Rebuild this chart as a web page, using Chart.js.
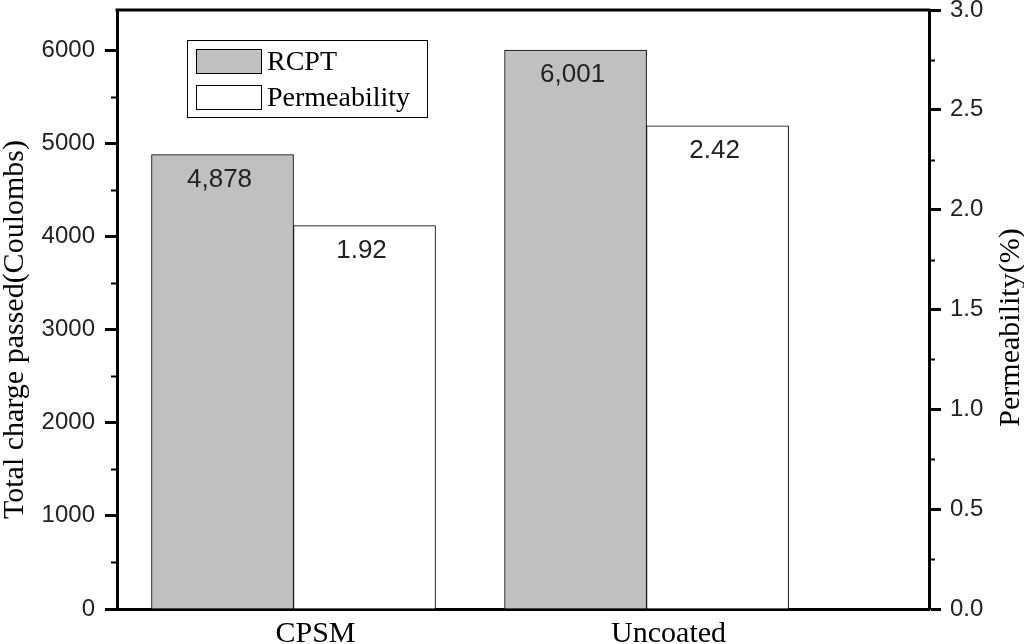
<!DOCTYPE html>
<html>
<head>
<meta charset="utf-8">
<script src="https://cdn.jsdelivr.net/npm/chart.js@4.4.0/dist/chart.umd.min.js"></script>
<style>
  html, body { margin: 0; padding: 0; background: #fff; }
</style>
</head>
<body>
<canvas id="myChart" width="1024" height="644"></canvas>
<script>
// data
var categories = ['CPSM', 'Uncoated'];
var rcpt = [4878, 6001];            // Total charge passed (Coulombs)
var permeability = [1.92, 2.42];    // Permeability (%)
var leftTicks = [0, 1000, 2000, 3000, 4000, 5000, 6000];
var rightTicks = [0.0, 0.5, 1.0, 1.5, 2.0, 2.5, 3.0];

var serif = "'Liberation Serif', 'Times New Roman', serif";
var sans = "'Liberation Sans', Arial, sans-serif";

// minor ticks, top frame line, rotated titles, legend, value labels
var extras = {
  id: 'extras',
  afterDatasetsDraw: function (chart) {
    var ctx = chart.ctx;
    ctx.save();
    ctx.font = '26px ' + sans;
    ctx.fillStyle = '#222';
    ctx.textAlign = 'center';
    ctx.textBaseline = 'middle';
    chart.data.datasets.forEach(function (ds, di) {
      chart.getDatasetMeta(di).data.forEach(function (bar, i) {
        var v = di === 0 ? rcpt[i].toLocaleString('en-US') : permeability[i].toFixed(2);
        ctx.fillText(v, bar.x - 3, bar.y + 25);
      });
    });
    ctx.restore();
  },
  afterDraw: function (chart) {
    var ctx = chart.ctx;
    var a = chart.chartArea;
    ctx.save();
    ctx.strokeStyle = '#000';

    // top frame
    ctx.lineWidth = 3;
    ctx.beginPath();
    ctx.moveTo(a.left - 1.5, a.top);
    ctx.lineTo(a.right + 1.5, a.top);
    ctx.stroke();

    // minor ticks halfway between major ones
    ctx.lineWidth = 2;
    function minors(scale, ticks, x0, x1) {
      for (var i = 0; i < ticks.length; i++) {
        var next = i + 1 < ticks.length ? ticks[i + 1] : ticks[i] + (ticks[1] - ticks[0]);
        var mid = (ticks[i] + next) / 2;
        if (mid > scale.max) continue;
        var y = Math.round(scale.getPixelForValue(mid)) + 0.5;
        ctx.beginPath();
        ctx.moveTo(x0, y);
        ctx.lineTo(x1, y);
        ctx.stroke();
      }
    }
    minors(chart.scales.y, leftTicks, a.left - 6, a.left);
    minors(chart.scales.y1, rightTicks, a.right, a.right + 6);

    // axis titles (both read bottom to top)
    ctx.fillStyle = '#000';
    ctx.font = '30px ' + serif;
    ctx.textAlign = 'center';
    ctx.textBaseline = 'alphabetic';
    var cy = (a.top + a.bottom) / 2 + 20;
    ctx.save();
    ctx.translate(23, cy);
    ctx.rotate(-Math.PI / 2);
    ctx.fillText('Total charge passed(Coulombs)', 0, 0);
    ctx.restore();
    ctx.save();
    ctx.translate(1019, cy - 2);
    ctx.rotate(-Math.PI / 2);
    ctx.fillText('Permeability(%)', 0, 0);
    ctx.restore();

    // legend box
    var lx = a.left + 70, ly = a.top + 30;
    ctx.lineWidth = 1;
    ctx.strokeRect(lx + 0.5, ly + 0.5, 240, 77);
    ctx.font = '28px ' + serif;
    ctx.textAlign = 'left';
    chart.data.datasets.forEach(function (ds, i) {
      var sy = ly + 9 + i * 36;
      ctx.fillStyle = ds.backgroundColor;
      ctx.fillRect(lx + 9, sy, 65, 24);
      ctx.strokeRect(lx + 9.5, sy + 0.5, 65, 24);
      ctx.fillStyle = '#000';
      ctx.fillText(ds.label, lx + 80, sy + 21);
    });
    ctx.restore();
  }
};

var ctx = document.getElementById('myChart').getContext('2d');
var chart = new Chart(ctx, {
  type: 'bar',
  data: {
    datasets: [{
      label: 'RCPT',
      data: rcpt.map(function (v, i) { return { x: i + 1, y: v }; }),
      yAxisID: 'y',
      backgroundColor: '#c0c0c0',
      borderColor: '#000',
      borderWidth: 1,
      barThickness: 142
    }, {
      label: 'Permeability',
      data: permeability.map(function (v, i) { return { x: i + 1, y: v }; }),
      yAxisID: 'y1',
      backgroundColor: '#ffffff',
      borderColor: '#000',
      borderWidth: 1,
      barThickness: 142
    }]
  },
  options: {
    responsive: false,
    animation: false,
    layout: { padding: { top: 10, left: 0, right: 0, bottom: 0 } },
    plugins: { legend: { display: false }, tooltip: { enabled: false } },
    scales: {
      x: {
        type: 'linear',
        offset: false,
        min: 0.5,
        max: 2.8,
        afterBuildTicks: function (s) { s.ticks = categories.map(function (c, i) { return { value: i + 1 }; }); },
        afterFit: function (s) { s.height = 35; s.paddingLeft = 0; s.paddingRight = 0; },
        grid: { display: false, drawTicks: false },
        border: { display: true, width: 3, color: '#000' },
        ticks: {
          callback: function (v) { return categories[v - 1]; },
          labelOffset: 22,
          padding: 7,
          maxRotation: 0,
          autoSkip: false,
          color: '#000',
          font: { family: serif, size: 30 }
        }
      },
      y: {
        position: 'left',
        min: 0,
        max: 6430,
        afterBuildTicks: function (s) { s.ticks = leftTicks.map(function (v) { return { value: v }; }); },
        afterFit: function (s) { s.width = 117; s.paddingTop = 0; s.paddingBottom = 0; },
        grid: { drawOnChartArea: false, tickLength: 12, tickWidth: 3, tickColor: '#000' },
        border: { width: 3, color: '#000' },
        ticks: {
          padding: 10,
          color: '#222',
          font: { family: sans, size: 24 },
          callback: function (v) { return String(v); }
        }
      },
      y1: {
        position: 'right',
        min: 0,
        max: 3,
        afterBuildTicks: function (s) { s.ticks = rightTicks.map(function (v) { return { value: v }; }); },
        afterFit: function (s) { s.width = 95; s.paddingTop = 0; s.paddingBottom = 0; },
        grid: { drawOnChartArea: false, tickLength: 12, tickWidth: 3, tickColor: '#000' },
        border: { width: 3, color: '#000' },
        ticks: {
          padding: 9,
          color: '#222',
          font: { family: sans, size: 24 },
          callback: function (v) { return Number(v).toFixed(1); }
        }
      }
    }
  },
  plugins: [extras]
});
</script>
</body>
</html>
